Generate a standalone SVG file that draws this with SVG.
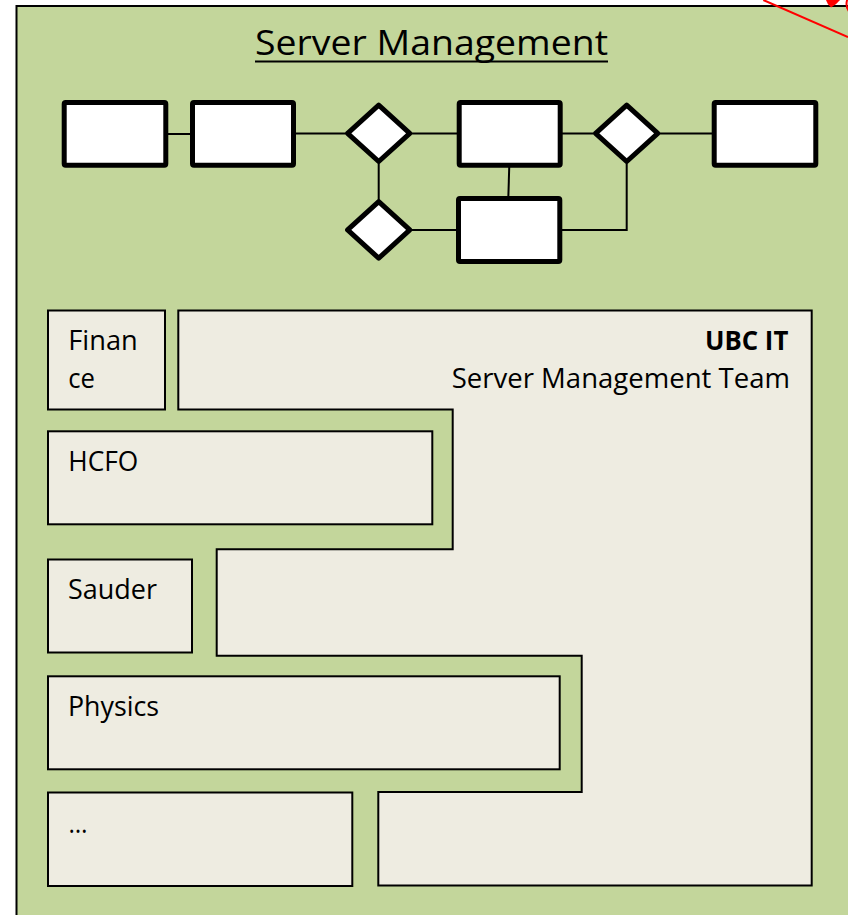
<svg xmlns="http://www.w3.org/2000/svg" width="848" height="915" viewBox="0 0 848 915">
<style>
.frame{fill:#C3D69B;stroke:#000;stroke-width:2}
.flow{fill:#fff;stroke:#000;stroke-width:5;stroke-linejoin:round}
.conn{fill:none;stroke:#000;stroke-width:2}
.panel{fill:#EEECE1;stroke:#000;stroke-width:2}
.t{font-family:"Open Sans","Liberation Sans",sans-serif;font-size:27px;fill:#000}
.title{font-family:"Open Sans","Liberation Sans",sans-serif;font-size:34px;fill:#000}
.red{fill:none;stroke:#FF0000;stroke-width:2}
</style>
<g id="frame">
<rect class="frame" x="16.5" y="6" width="900" height="1000"/>
</g>
<g id="title">
<text class="title" x="255" y="54.5" textLength="353" lengthAdjust="spacingAndGlyphs">Server Management</text>
<line x1="255" y1="61.5" x2="608" y2="61.5" stroke="#000" stroke-width="2.2"/>
</g>
<g id="connectors">
<line class="conn" x1="166" y1="134" x2="192" y2="134"/>
<line class="conn" x1="294" y1="133.5" x2="348" y2="133.5"/>
<line class="conn" x1="410" y1="133.5" x2="459" y2="133.5"/>
<line class="conn" x1="378.7" y1="161" x2="378.7" y2="202"/>
<line class="conn" x1="410" y1="230" x2="458" y2="230"/>
<line class="conn" x1="509.3" y1="165" x2="508.3" y2="198"/>
<line class="conn" x1="560" y1="133.5" x2="596" y2="133.5"/>
<line class="conn" x1="658" y1="133.5" x2="714" y2="133.5"/>
<polyline class="conn" points="626.7,161 626.7,230 560,230"/>
</g>
<g id="box1"><rect class="flow" x="64.2" y="102.5" width="101.6" height="62.7" rx="1.5"/></g>
<g id="box2"><rect class="flow" x="192.5" y="102.5" width="101" height="62.7" rx="1.5"/></g>
<g id="diamond1"><polygon class="flow" points="378.7,105.2 409.8,133.3 378.7,161.5 347.6,133.3"/></g>
<g id="diamond2"><polygon class="flow" points="378.7,201.6 409.8,229.9 378.7,258.2 347.6,229.9"/></g>
<g id="box3"><rect class="flow" x="459.2" y="102.5" width="101" height="62.7" rx="1.5"/></g>
<g id="box4"><rect class="flow" x="458.5" y="198.5" width="101.3" height="63" rx="1.5"/></g>
<g id="diamond3"><polygon class="flow" points="626.7,105.2 657.8,133.3 626.7,161.5 595.6,133.3"/></g>
<g id="box5"><rect class="flow" x="714.2" y="102.5" width="101.6" height="62.7" rx="1.5"/></g>
<g id="ubcit">
<polygon class="panel" points="178.3,310.5 811.7,310.5 811.7,885.5 378.3,885.5 378.3,792 581.7,792 581.7,655.7 216.7,655.7 216.7,549.3 452.7,549.3 452.7,409.5 178.3,409.5"/>
<text class="t" x="705" y="349.5" font-weight="bold" textLength="83.3" lengthAdjust="spacingAndGlyphs">UBC IT</text>
<text class="t" x="451.7" y="388" textLength="338.3" lengthAdjust="spacingAndGlyphs">Server Management Team</text>
</g>
<g id="finance">
<rect class="panel" x="48" y="310.5" width="117" height="99"/>
<text class="t" x="68.3" y="350" textLength="69.4" lengthAdjust="spacingAndGlyphs">Finan</text>
<text class="t" x="68.3" y="388.3" textLength="26.7" lengthAdjust="spacingAndGlyphs">ce</text>
</g>
<g id="hcfo">
<rect class="panel" x="48" y="431.3" width="384.3" height="93"/>
<text class="t" x="68.3" y="470.7" textLength="70" lengthAdjust="spacingAndGlyphs">HCFO</text>
</g>
<g id="sauder">
<rect class="panel" x="48" y="559.5" width="144" height="93"/>
<text class="t" x="68" y="599.3" textLength="89" lengthAdjust="spacingAndGlyphs">Sauder</text>
</g>
<g id="physics">
<rect class="panel" x="48" y="676.3" width="511.7" height="93"/>
<text class="t" x="68" y="715.5" textLength="91" lengthAdjust="spacingAndGlyphs">Physics</text>
</g>
<g id="more">
<rect class="panel" x="48" y="792.5" width="304.3" height="93.5"/>
<text class="t" x="68.5" y="833" textLength="19" lengthAdjust="spacingAndGlyphs">…</text>
</g>
<g id="red-marks">
<line class="red" x1="763.3" y1="0" x2="848" y2="37"/>
<path d="M826,0 L840,0 Q837,4 831,7.5 Q827,4 826,0 Z" fill="#FF0000"/>
<circle class="red" cx="859" cy="4" r="12.5"/>
</g>
</svg>
